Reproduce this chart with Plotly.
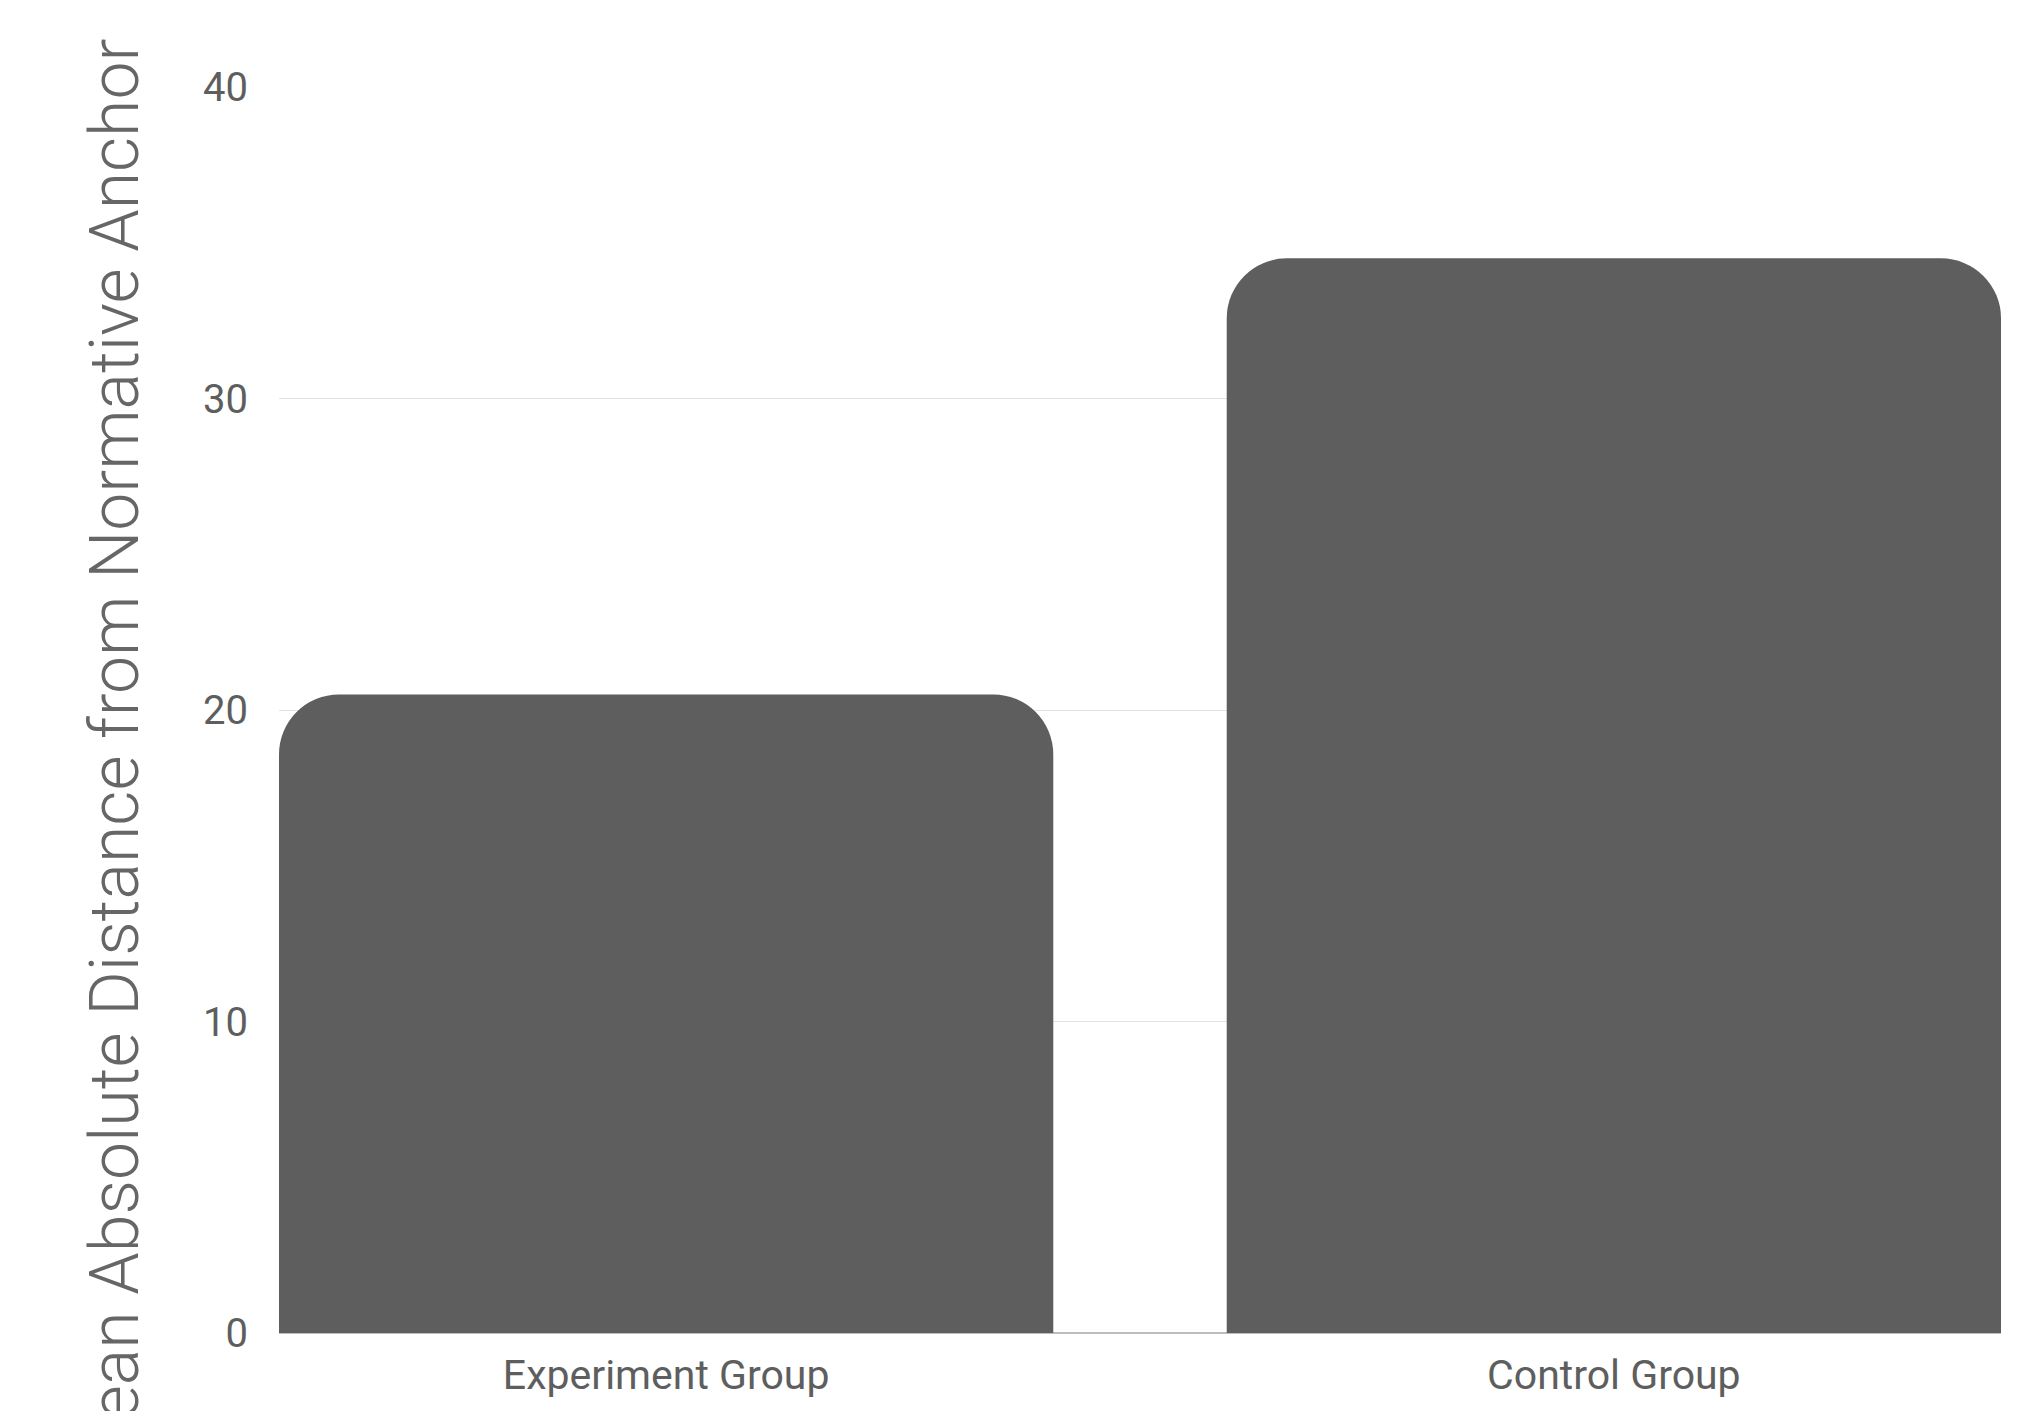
import plotly.graph_objects as go

categories = ["Experiment Group", "Control Group"]
values = [20.5, 34.5]
y_ticks = [0, 10, 20, 30, 40]
y_title = "Mean Absolute Distance from Normative Anchor"

bar_w = 0.817

fig = go.Figure(
    go.Bar(
        x=categories,
        y=values,
        width=bar_w,
        marker=dict(color="#5e5e5e", cornerradius=60, line=dict(width=0)),
    )
)

fig.update_layout(
    width=2040,
    height=1411,
    margin=dict(l=279, r=39, t=87, b=76),
    plot_bgcolor="white",
    paper_bgcolor="white",
    showlegend=False,
    font=dict(family="Roboto", color="#5e5e5e"),
    annotations=[
        dict(
            text=y_title,
            textangle=-90,
            xref="paper",
            yref="paper",
            x=-0.0955,
            y=0.461,
            xanchor="center",
            yanchor="middle",
            showarrow=False,
            font=dict(size=68, family="Roboto", color="#666666", weight=300),
        )
    ],
)

fig.update_xaxes(
    type="category",
    range=[-bar_w / 2, 1 + bar_w / 2],
    showgrid=False,
    showline=False,
    ticks="",
    tickfont=dict(size=41, family="Roboto", color="#5e5e5e"),
    ticklabelstandoff=14,
)

fig.update_yaxes(
    range=[0, 40],
    tickvals=y_ticks,
    showgrid=True,
    gridcolor="#e3e3e3",
    gridwidth=1,
    zeroline=True,
    zerolinecolor="#bdbdbd",
    zerolinewidth=2,
    showline=False,
    ticks="",
    tickfont=dict(size=40, family="Roboto", color="#5e5e5e"),
    ticklabelstandoff=30,
    automargin=False,
)

fig.write_html("out.html")
